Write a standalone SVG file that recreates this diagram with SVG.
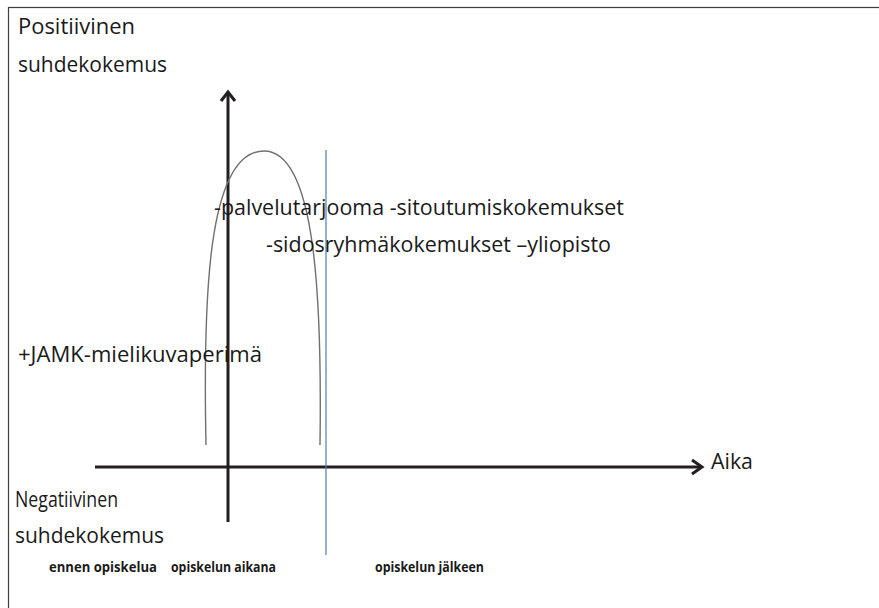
<svg xmlns="http://www.w3.org/2000/svg" width="879" height="608" viewBox="0 0 879 608">
<style>
.t{font-family:"Open Sans","Noto Sans",sans-serif;font-size:21px;fill:#1a1a1a}
.b{font-family:"Open Sans","Noto Sans",sans-serif;font-size:15px;font-weight:bold;fill:#1a1a1a}
.ax{stroke:#231f20;stroke-width:3;fill:none}
.ah{stroke:#231f20;stroke-width:3;fill:none;stroke-linecap:butt;stroke-linejoin:miter}
</style>
<rect x="0" y="0" width="879" height="608" fill="#ffffff"/>
<rect id="frame" x="8.5" y="7.5" width="900" height="700" fill="none" stroke="#404040" stroke-width="1.2"/>
<g id="connectors">
<path class="ax" d="M228,522 V92"/>
<path class="ah" d="M221,101 L228,92 L235,101"/>
<path class="ax" d="M95,467 H701"/>
<path class="ah" d="M692,460 L702,467 L692,474"/>
<path d="M326,150 V555" stroke="#4a7ebb" stroke-width="1.2" fill="none"/>
<path d="M206,445 C203,300 207,151 264,151 C316,151 322,300 320,445" stroke="#707070" stroke-width="1.4" fill="none"/>
</g>
<g id="labels">
<text class="t" x="18" y="34" textLength="117" lengthAdjust="spacingAndGlyphs">Positiivinen</text>
<text class="t" x="18" y="72" textLength="149" lengthAdjust="spacingAndGlyphs">suhdekokemus</text>
<text class="t" x="214" y="215" textLength="410" lengthAdjust="spacingAndGlyphs">-palvelutarjooma -sitoutumiskokemukset</text>
<text class="t" x="266" y="252" textLength="345" lengthAdjust="spacingAndGlyphs">-sidosryhmäkokemukset –yliopisto</text>
<text class="t" x="18" y="362" textLength="244" lengthAdjust="spacingAndGlyphs">+JAMK-mielikuvaperimä</text>
<text class="t" x="711" y="469" textLength="42" lengthAdjust="spacingAndGlyphs">Aika</text>
<text class="t" x="15" y="507" textLength="103" lengthAdjust="spacingAndGlyphs">Negatiivinen</text>
<text class="t" x="15" y="543" textLength="149" lengthAdjust="spacingAndGlyphs">suhdekokemus</text>
<text class="b" x="49" y="572" textLength="108" lengthAdjust="spacingAndGlyphs">ennen opiskelua</text>
<text class="b" x="171" y="572" textLength="105" lengthAdjust="spacingAndGlyphs">opiskelun aikana</text>
<text class="b" x="375" y="572" textLength="109" lengthAdjust="spacingAndGlyphs">opiskelun jälkeen</text>
</g>
</svg>
